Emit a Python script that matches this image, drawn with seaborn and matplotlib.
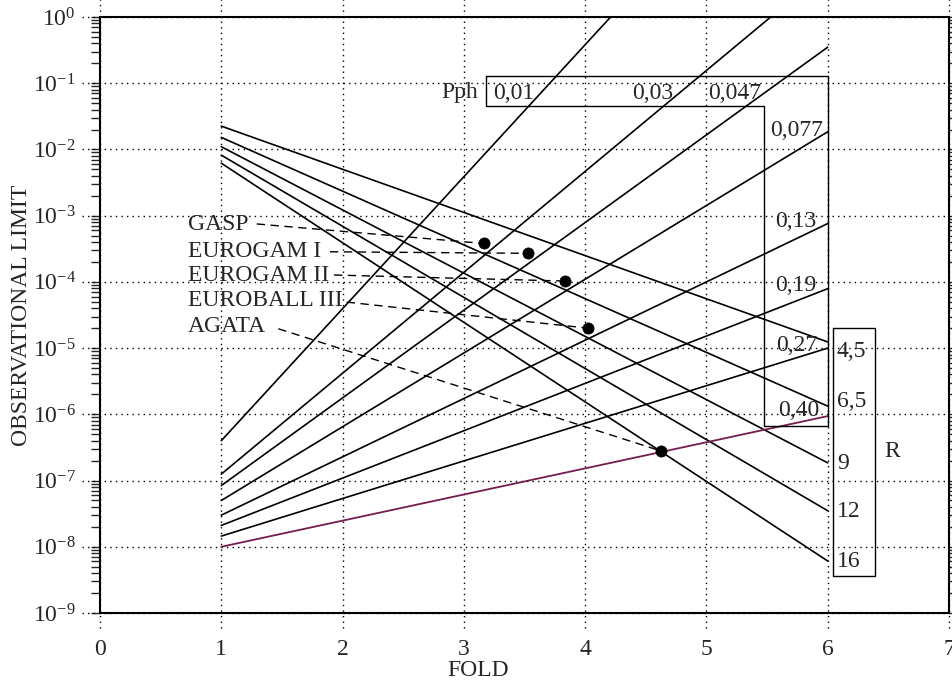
import numpy as np
import pandas as pd
import matplotlib
matplotlib.use("Agg")
import matplotlib.pyplot as plt
import seaborn as sns
from matplotlib.ticker import LogLocator, FixedLocator, NullFormatter

# ---------------- data ----------------
# Pph family (rising lines), start at FOLD=1
pph_labels = ["0,01", "0,03", "0,047", "0,077", "0,13", "0,19", "0,27", "0,40"]
pph_start_y = [4.0e-7, 1.25e-7, 8.4e-8, 5.0e-8, 3.0e-8, 2.1e-8, 1.45e-8, 1.0e-8]
pph_end_x = [4.21, 5.53, 6.0, 6.0, 6.0, 6.0, 6.0, 6.0]
pph_end_y = [1.0, 1.0, 0.35, 0.0185, 7.6e-4, 7.9e-5, 1.0e-5, 9.4e-7]

# R family (falling lines), from FOLD=1 to FOLD=6
r_labels = ["4,5", "6,5", "9", "12", "16"]
r_start_y = [0.0225, 0.0152, 0.011, 0.0082, 0.0062]
r_end_y = [1.24e-5, 1.33e-6, 1.85e-7, 3.5e-8, 6.1e-9]

# Detectors
det_names = ["GASP", "EUROGAM I", "EUROGAM II", "EUROBALL III", "AGATA"]
det_fold = [3.166, 3.531, 3.833, 4.026, 4.625]
det_limit = [3.8e-4, 2.7e-4, 1.03e-4, 2.0e-5, 2.8e-7]

# layout of the detector labels (text centre y, dashed leader start)
det_label_y = [7.46e-4, 2.85e-4, 1.27e-4, 5.3e-5, 2.15e-5]
det_lead_x = [1.292, 1.896, 1.929, 2.034, 1.470]
det_lead_y = [7.5e-4, 2.85e-4, 1.27e-4, 4.95e-5, 1.96e-5]

# ---------------- style ----------------
sns.set_style("ticks")
plt.rcParams["font.family"] = ["Liberation Serif", "DejaVu Serif"]
plt.rcParams["mathtext.fontset"] = "custom"
plt.rcParams["mathtext.rm"] = "Liberation Serif"
plt.rcParams["mathtext.it"] = "Liberation Serif:italic"
plt.rcParams["mathtext.bf"] = "Liberation Serif:bold"
FS = 17

fig = plt.figure(figsize=(9.52, 6.85), dpi=100)
ax = fig.add_axes([100 / 952, 1 - 613 / 685, 849 / 952, 596 / 685])
ax.set_yscale("log")
ax.set_xlim(0, 7)
ax.set_ylim(1e-9, 1e0)

# grid (dotted, extending slightly outside the frame)
grid_kw = dict(color="black", lw=1.0, ls=(0, (1, 3)), zorder=1, clip_on=False)
for xv in range(0, 8):
    ax.axvline(xv, ymin=-0.026, ymax=1.04, **grid_kw)
for e in range(-9, 1):
    ax.axhline(10.0 ** e, xmin=-0.021, xmax=1.0, **grid_kw)

# lines
rows = []
for i, lab in enumerate(pph_labels[:-1]):
    rows.append(dict(x=1.0, y=pph_start_y[i], line="P" + lab))
    rows.append(dict(x=pph_end_x[i], y=pph_end_y[i], line="P" + lab))
for i, lab in enumerate(r_labels):
    rows.append(dict(x=1.0, y=r_start_y[i], line="R" + lab))
    rows.append(dict(x=6.0, y=r_end_y[i], line="R" + lab))
df = pd.DataFrame(rows)
sns.lineplot(data=df, x="x", y="y", units="line", estimator=None, color="black",
             lw=1.2, ax=ax, zorder=3, legend=False)

df_p = pd.DataFrame(dict(x=[1.0, pph_end_x[-1]], y=[pph_start_y[-1], pph_end_y[-1]]))
sns.lineplot(data=df_p, x="x", y="y", color="#751c50", lw=1.3, ax=ax, zorder=3,
             legend=False)

# detectors
sns.scatterplot(x=det_fold, y=det_limit, color="black", s=65, ax=ax, zorder=5,
                edgecolor="black", linewidth=0.5, legend=False)
for i, name in enumerate(det_names):
    ax.text(0.725, det_label_y[i], name, ha="left", va="center", fontsize=FS, zorder=6)
    ax.plot([det_lead_x[i], det_fold[i]], [det_lead_y[i], det_limit[i]], color="black",
            lw=1.0, ls=(0, (6, 4)), zorder=4)

# Pph box (L-shaped)
bx = [3.179, 6.0, 6.0, 5.474, 5.474, 3.179, 3.179]
by = [0.13, 0.13, 6.7e-7, 6.7e-7, 0.0457, 0.0457, 0.13]
ax.plot(bx, by, color="black", lw=1.0, zorder=4)
ax.text(3.12, 0.0736, "Pph", ha="right", va="center", fontsize=FS)
top_pos = [(3.24, 0.0711), (4.386, 0.0711), (5.012, 0.0711)]
for (tx, ty), lab in zip(top_pos, pph_labels[:3]):
    ax.text(tx, ty, lab, ha="left", va="center", fontsize=FS, zorder=6)
side_pos = [(5.965, 0.0196), (5.91, 8.1e-4), (5.91, 8.9e-5), (5.91, 1.11e-5), (5.935, 1.16e-6)]
for (tx, ty), lab in zip(side_pos, pph_labels[3:]):
    ax.text(tx, ty, lab, ha="right", va="center", fontsize=FS, zorder=6)

# R box
rx = [6.045, 6.389, 6.389, 6.045, 6.045]
ry = [1.98e-5, 1.98e-5, 3.6e-9, 3.6e-9, 1.98e-5]
ax.plot(rx, ry, color="black", lw=1.0, zorder=4, clip_on=False)
r_text_y = [10 ** -5.056, 10 ** -5.811, 10 ** -6.742, 10 ** -7.473, 10 ** -8.228]
for ty, lab in zip(r_text_y, r_labels):
    ax.text(6.076, ty, lab, ha="left", va="center", fontsize=FS, zorder=6)
ax.text(6.53, 10 ** -6.566, "R", ha="center", va="center", fontsize=FS)

# axes, ticks
for s in ax.spines.values():
    s.set_visible(True)
    s.set_linewidth(1.5)
    s.set_color("black")
    s.set_zorder(7)
ax.xaxis.set_major_locator(FixedLocator(range(0, 8)))
ax.yaxis.set_major_locator(LogLocator(base=10, numticks=20))
ax.yaxis.set_minor_locator(LogLocator(base=10, subs=np.arange(2, 10), numticks=20))
ax.yaxis.set_minor_formatter(NullFormatter())
ax.tick_params(axis="x", length=0, pad=19, labelsize=FS)
ax.tick_params(axis="y", which="both", direction="out", length=6.5, width=1.0,
               left=True, right=True, labelsize=FS, pad=11)

ax.set_xlabel("FOLD", fontsize=FS)
ax.set_ylabel("OBSERVATIONAL LIMIT", fontsize=FS)
ax.xaxis.set_label_coords((478 - 100) / 849, (613 - 670) / 596)
ax.xaxis.label.set_verticalalignment("center")
ax.yaxis.set_label_coords((22 - 100) / 849, 0.5)
ax.yaxis.label.set_verticalalignment("center")

fig.savefig("out.png", dpi=100)
